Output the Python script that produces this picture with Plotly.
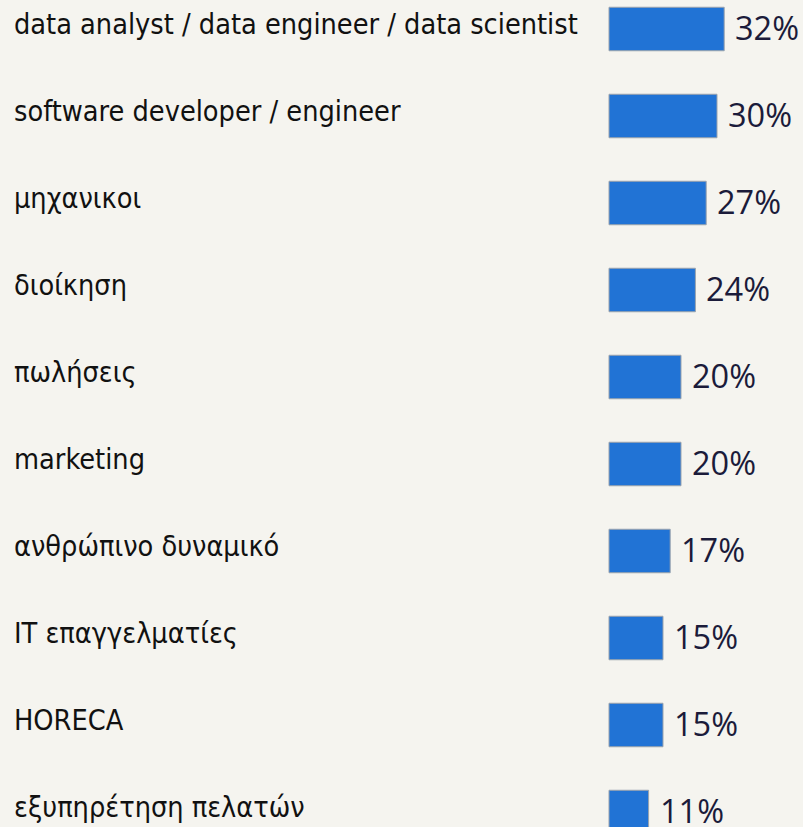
import plotly.graph_objects as go

categories = [
    "data analyst / data engineer / data scientist",
    "software developer / engineer",
    "μηχανικοι",
    "διοίκηση",
    "πωλήσεις",
    "marketing",
    "ανθρώπινο δυναμικό",
    "IT επαγγελματίες",
    "HORECA",
    "εξυπηρέτηση πελατών",
]
values = [32, 30, 27, 24, 20, 20, 17, 15, 15, 11]
value_labels = [f"{v}%" for v in values]

W, H = 803, 827
bar_left_px = 609
px_per_unit = 3.6
row0_px = 29
row_pitch = 87
BG = "#f5f4ef"

positions = list(range(len(categories)))

fig = go.Figure()
fig.add_trace(go.Bar(
    x=values,
    y=positions,
    orientation="h",
    width=0.5,
    marker=dict(color="#2173d5", line=dict(color="#9aa3ad", width=1)),
    hoverinfo="skip",
))

for i, (cat, v, lab) in enumerate(zip(categories, values, value_labels)):
    fig.add_annotation(
        x=12 / W, xref="paper", y=i, yref="y",
        text=cat, showarrow=False, xanchor="left", yanchor="middle",
        yshift=5,
        font=dict(family="DejaVu Sans Condensed, DejaVu Sans, sans-serif", size=28.6, color="#111111"),
    )
    fig.add_annotation(
        x=v, xref="x", y=i, yref="y",
        text=lab, showarrow=False, xanchor="left", yanchor="middle",
        xshift=9, yshift=2,
        font=dict(family="Open Sans, sans-serif", size=32.5, color="#1b1b3a"),
    )

x0 = -bar_left_px / px_per_unit
x1 = (W - bar_left_px) / px_per_unit
y_top = -row0_px / row_pitch
y_bot = (H - row0_px) / row_pitch

fig.update_layout(
    width=W, height=H,
    margin=dict(l=0, r=0, t=0, b=0),
    paper_bgcolor=BG,
    plot_bgcolor=BG,
    showlegend=False,
    xaxis=dict(range=[x0, x1], visible=False, fixedrange=True),
    yaxis=dict(range=[y_bot, y_top], visible=False, fixedrange=True),
)

fig.write_html(
    "out.html",
    config={"displayModeBar": False},
    post_script=(
        "document.body.style.margin='0';"
        "document.body.style.overflow='hidden';"
        f"document.body.style.background='{BG}';"
    ),
)
